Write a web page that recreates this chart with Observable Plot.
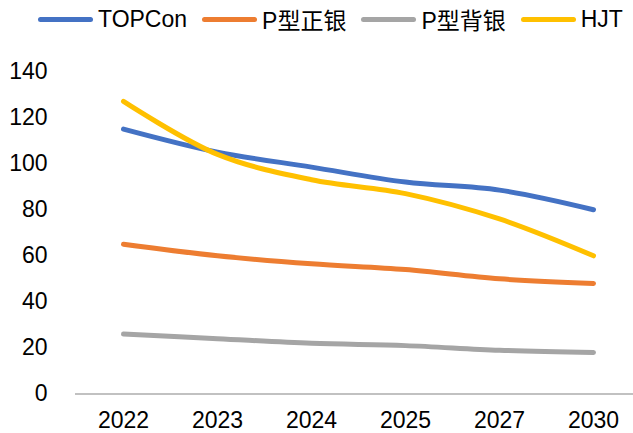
<!DOCTYPE html>
<html>
<head>
<meta charset="utf-8">
<script src="https://cdn.jsdelivr.net/npm/d3@7"></script>
<script src="https://cdn.jsdelivr.net/npm/@observablehq/plot@0.6"></script>
<style>
  html, body { margin: 0; padding: 0; background: #fff; }
  #wrap { position: relative; width: 633px; height: 433px; overflow: hidden; font-family: "Liberation Sans", Arial, "Noto Sans CJK SC", sans-serif; }
  #legend { position: absolute; top: 0; left: 38px; height: 38px; display: flex; align-items: center; font-size: 23px; color: #000; white-space: nowrap; }
  .item { display: flex; align-items: center; margin-right: 15px; }
  .sw { width: 55px; height: 5px; border-radius: 3px; margin-right: 5px; }
</style>
</head>
<body>
<div id="wrap"><div id="legend"></div><div id="chart"></div></div>
<script>
const years = ["2022", "2023", "2024", "2025", "2027", "2030"];
const seriesNames = ["TOPCon", "P型正银", "P型背银", "HJT"];
const topcon = [115, 105, 98.5, 92, 88.5, 80];
const pFront = [65, 60, 56.5, 54, 50, 48];
const pBack = [26, 24, 22, 21, 19, 18];
const hjt = [127, 104, 93, 87, 76, 60];
const colors = ["#4472C4", "#ED7D31", "#A5A5A5", "#FFC000"];
const yTicks = [0, 20, 40, 60, 80, 100, 120, 140];

const valueLists = [topcon, pFront, pBack, hjt];
const rows = [];
seriesNames.forEach((s, i) => years.forEach((y, j) => rows.push({series: s, year: y, value: valueLists[i][j]})));

const legend = document.getElementById("legend");
seriesNames.forEach((s, i) => {
  const it = document.createElement("div");
  it.className = "item";
  it.innerHTML = `<span class="sw" style="background:${colors[i]}"></span><span>${s}</span>`;
  legend.appendChild(it);
});

const chart = Plot.plot({
  width: 633,
  height: 433,
  marginLeft: 75,
  marginRight: 0,
  marginTop: 71,
  marginBottom: 39.5,
  style: {fontFamily: '"Liberation Sans", Arial, sans-serif', fontSize: "23px", color: "#000", background: "transparent", overflow: "visible"},
  x: {type: "band", domain: years, range: [75, 640], padding: 0},
  y: {domain: [0, 140]},
  color: {domain: seriesNames, range: colors},
  marks: [
    Plot.axisY({ticks: yTicks, tickSize: 0, tickPadding: 28, label: null}),
    Plot.axisX({tickSize: 0, tickPadding: 18, label: null}),
    Plot.axisY({ticks: [], tickSize: 0, line: true, stroke: "#ADADAD", strokeWidth: 1.3, label: null}),
    Plot.ruleY([0], {stroke: "#ADADAD", strokeWidth: 1.3}),
    Plot.line(rows, {x: "year", y: "value", z: "series", stroke: "series", strokeWidth: 5, curve: "catmull-rom", strokeLinecap: "round", strokeLinejoin: "round"})
  ]
});
document.getElementById("chart").appendChild(chart);
</script>
</body>
</html>
